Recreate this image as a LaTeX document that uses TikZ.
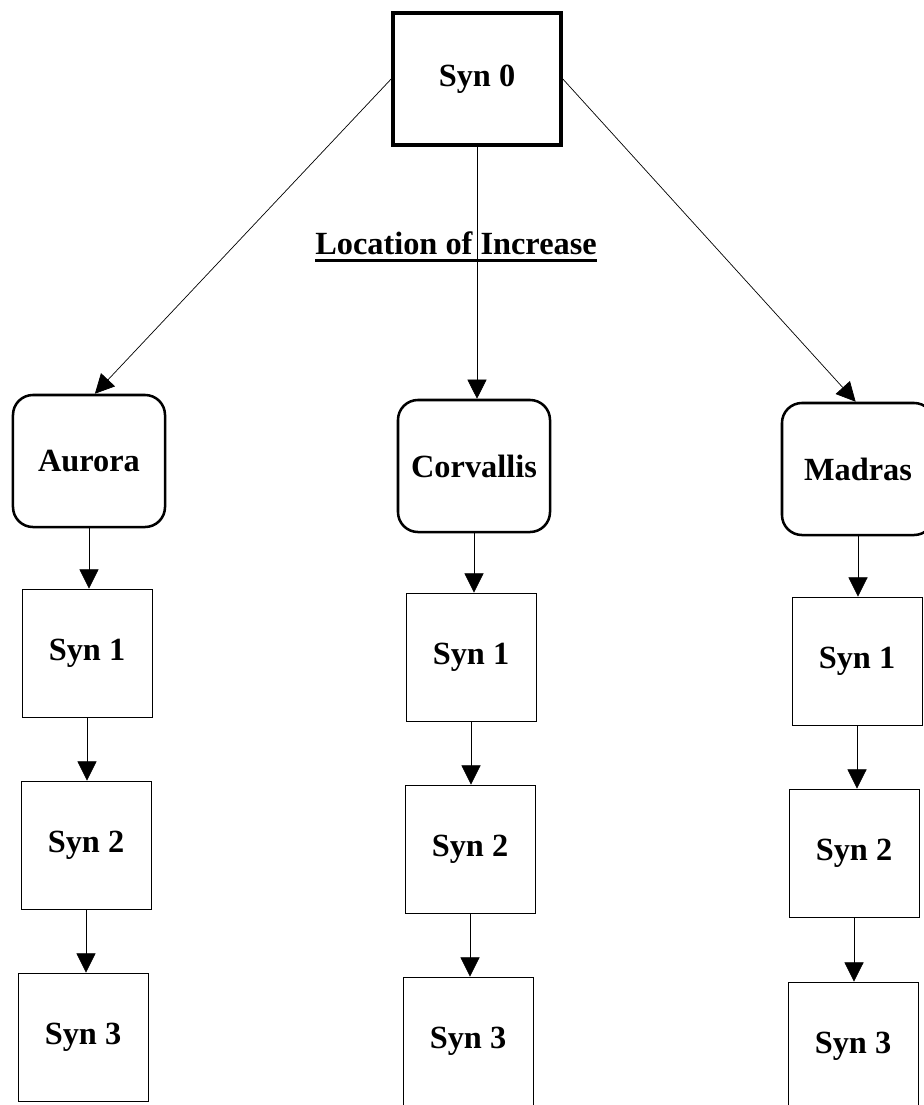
\documentclass[tikz,border=0pt]{standalone}
\usepackage{fontspec}
\setmainfont{Liberation Serif}
\usetikzlibrary{arrows.meta}
\newcommand{\ulthick}[1]{\vtop{\hbox{#1}\kern3pt\hrule height 2.2pt}}
\tikzset{
  lbl/.style={font=\bfseries\fontsize{23}{27}\selectfont, inner sep=0pt},
  topbox/.style={lbl, draw, line width=2.6pt, minimum width=4.2cm, minimum height=3.3cm},
  sitebox/.style={lbl, draw, line width=1.8pt, rounded corners=0.5cm, minimum width=3.8cm, minimum height=3.3cm},
  synbox/.style={lbl, draw, line width=0.6pt, minimum width=3.25cm, minimum height=3.2cm},
  arr/.style={line width=0.5pt, -{Triangle[length=0.48cm,width=0.48cm]}}
}
\begin{document}
\begin{tikzpicture}[x=0.025cm,y=-0.025cm]
      \useasboundingbox (0,0) rectangle (923,1105);
      \node[topbox] (syn0) at (477,79) {Syn 0};
      \node[lbl, anchor=base] (loc) at (456,254) {\ulthick{Location of Increase}};
      % locations
      \node[sitebox] (aurora) at (89,461) {Aurora};
      \node[sitebox] (corvallis) at (474,466) {Corvallis};
      \node[sitebox] (madras) at (858,469) {Madras};
      % syn boxes
      \node[synbox] (a1) at (87,653) {Syn 1};
      \node[synbox] (a2) at (86,845) {Syn 2};
      \node[synbox] (a3) at (83,1037) {Syn 3};
      \node[synbox] (c1) at (471,657) {Syn 1};
      \node[synbox] (c2) at (470,849) {Syn 2};
      \node[synbox] (c3) at (468,1041) {Syn 3};
      \node[synbox] (m1) at (857,661) {Syn 1};
      \node[synbox] (m2) at (854,853) {Syn 2};
      \node[synbox] (m3) at (853,1046) {Syn 3};
      % connectors
      \draw[arr] (syn0.west) -- (aurora.85);
      \draw[arr] (syn0.south) -- (syn0.south |- corvallis.north);
      \draw[arr] (syn0.east) -- (madras.92);
      \draw[arr] (aurora.south) -- (aurora.south |- a1.north);
      \draw[arr] (a1.south) -- (a1.south |- a2.north);
      \draw[arr] (a2.south) -- (a2.south |- a3.north);
      \draw[arr] (corvallis.south) -- (corvallis.south |- c1.north);
      \draw[arr] (c1.south) -- (c1.south |- c2.north);
      \draw[arr] (c2.south) -- (c2.south |- c3.north);
      \draw[arr] (madras.south) -- (madras.south |- m1.north);
      \draw[arr] (m1.south) -- (m1.south |- m2.north);
      \draw[arr] (m2.south) -- (m2.south |- m3.north);
\end{tikzpicture}
\end{document}
